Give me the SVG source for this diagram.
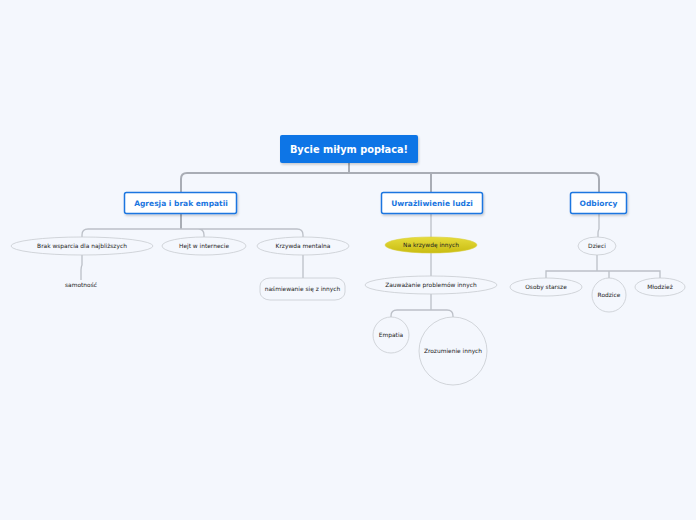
<svg xmlns="http://www.w3.org/2000/svg" width="696" height="520" viewBox="0 0 696 520">
<style>
.bg{fill:#f4f7fd}
.c{fill:none;stroke:#bcc0c8;stroke-width:1.3}
.ct{fill:none;stroke:#a9adb5;stroke-width:2}
.main{fill:#ffffff;stroke:#1a76e0;stroke-width:1.5}
.mt{font-family:"DejaVu Sans",sans-serif;font-size:7.5px;font-weight:bold;fill:#1a76e0;text-anchor:middle}
.sub{fill:#f4f7fd;stroke:#c8cbd1;stroke-width:0.8}
.st{font-family:"DejaVu Sans",sans-serif;font-size:5.9px;fill:#222222;text-anchor:middle}
</style>
<defs>
<linearGradient id="yel" x1="0" y1="0" x2="0" y2="1">
<stop offset="0" stop-color="#e6dc3c"/>
<stop offset="1" stop-color="#c9bc12"/>
</linearGradient>
<filter id="sh" x="-10%" y="-20%" width="130%" height="160%">
<feDropShadow dx="1" dy="1.5" stdDeviation="1" flood-color="#000" flood-opacity="0.2"/>
</filter>
</defs>
<rect class="bg" x="0" y="0" width="696" height="520"/>
<g id="connectors">
<path class="ct" d="M349 163 V173 M187 173 H593 M187 173 Q181 173 181 179 V192 M431 173 V192 M593 173 Q599 173 599 179 V192"/>
<path class="ct" d="M181 214 V229"/>
<path class="c" d="M181 229 H88 Q82 229 82 235 V237 M181 229 H198 Q204 229 204 235 V237 M181 229 H297 Q303 229 303 235 V237"/>
<path class="c" d="M82 255 V265 Q81 267 81 270 V280"/>
<path class="c" d="M303 255 V278"/>
<path class="c" d="M431 214 V237 M431 253 V276"/>
<path class="c" d="M431 294 V310 M431 310 H397 Q391 310 391 316 V317 M431 310 H447 Q453 310 453 316 V317"/>
<path class="c" d="M599 214 V229 Q598 231 598 233 V237"/>
<path class="c" d="M597 255 V271 M597 271 H546 V278 M597 271 H660 V278 M609 271 V278"/>
</g>
<g id="root">
<rect x="280" y="135" width="138" height="28" rx="2" fill="#0a74e6" filter="url(#sh)"/>
<text x="349" y="152.5" font-family="DejaVu Sans,sans-serif" font-size="9.8" font-weight="bold" fill="#ffffff" text-anchor="middle">Bycie miłym popłaca!</text>
</g>
<g id="agresja">
<rect class="main" x="124.5" y="192.5" width="112" height="21" rx="2" filter="url(#sh)"/>
<text class="mt" x="181" y="206">Agresja i brak empatii</text>
</g>
<g id="uwrazliwienie">
<rect class="main" x="381.5" y="192.5" width="101" height="21" rx="2" filter="url(#sh)"/>
<text class="mt" x="432" y="206">Uwrażliwienie ludzi</text>
</g>
<g id="odbiorcy">
<rect class="main" x="570.5" y="192.5" width="56" height="21" rx="2" filter="url(#sh)"/>
<text class="mt" x="598.5" y="206">Odbiorcy</text>
</g>
<g id="brak">
<ellipse class="sub" cx="82" cy="246" rx="71" ry="9"/>
<text class="st" x="82" y="248">Brak wsparcia dla najbliższych</text>
</g>
<g id="hejt">
<ellipse class="sub" cx="204" cy="246" rx="42" ry="9"/>
<text class="st" x="204" y="248">Hejt w internecie</text>
</g>
<g id="krzywda">
<ellipse class="sub" cx="303" cy="246" rx="46" ry="9"/>
<text class="st" x="303" y="248">Krzywda mentalna</text>
</g>
<g id="samotnosc">
<text class="st" x="81" y="287">samotność</text>
</g>
<g id="nasmiewanie">
<rect class="sub" x="260" y="278" width="85" height="22" rx="10" ry="8"/>
<text class="st" x="302.5" y="291">naśmiewanie się z innych</text>
</g>
<g id="nakrzywde">
<ellipse cx="431" cy="245" rx="46" ry="8" fill="url(#yel)" stroke="#d8cf3a" stroke-width="0.6"/>
<text class="st" x="431" y="247">Na krzywdę innych</text>
</g>
<g id="zauwazanie">
<ellipse class="sub" cx="431" cy="285" rx="66" ry="9"/>
<text class="st" x="431" y="287">Zauważanie problemów innych</text>
</g>
<g id="empatia">
<circle class="sub" cx="391" cy="335" r="18"/>
<text class="st" x="391" y="337">Empatia</text>
</g>
<g id="zrozumienie">
<circle class="sub" cx="453" cy="351" r="34"/>
<text class="st" x="453" y="353">Zrozumienie innych</text>
</g>
<g id="dzieci">
<ellipse class="sub" cx="597" cy="246" rx="19" ry="9"/>
<text class="st" x="597" y="248">Dzieci</text>
</g>
<g id="osoby">
<ellipse class="sub" cx="546" cy="287" rx="36" ry="9"/>
<text class="st" x="546" y="289">Osoby starsze</text>
</g>
<g id="rodzice">
<circle class="sub" cx="609" cy="295" r="17"/>
<text class="st" x="609" y="297">Rodzice</text>
</g>
<g id="mlodziez">
<ellipse class="sub" cx="660" cy="287" rx="25" ry="9"/>
<text class="st" x="660" y="289">Młodzież</text>
</g>
</svg>
